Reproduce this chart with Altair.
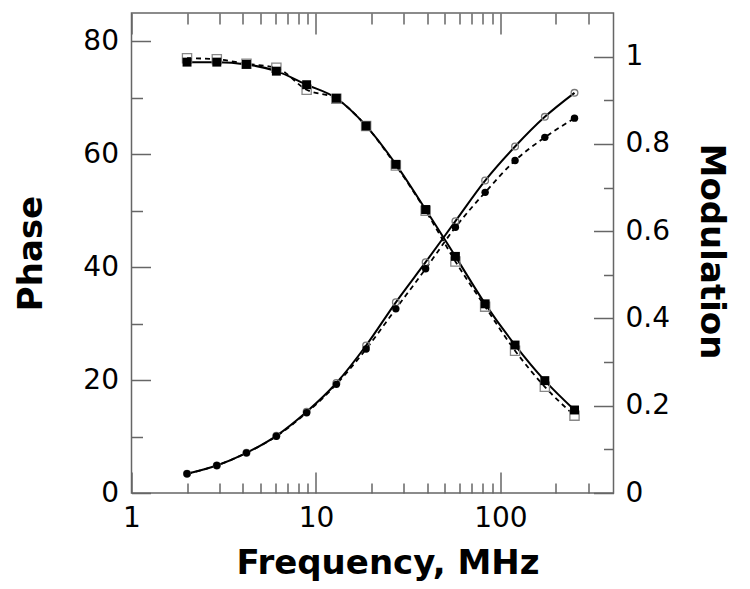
import altair as alt
import pandas as pd

# ---- data ----
freq = [2, 2.9, 4.2, 6.1, 8.9, 12.9, 18.7, 27.1, 39.3, 57, 82.6, 120, 174, 252]
phase_filled = [76.3, 76.3, 75.9, 74.7, 72.3, 69.9, 65.0, 58.2, 50.2, 41.9, 33.5, 26.2, 19.9, 14.7]
phase_open = [77.0, 76.8, 76.0, 75.3, 71.4, 69.8, 65.0, 58.0, 50.0, 41.0, 33.0, 25.2, 18.8, 13.7]
mod_open = [0.044, 0.063, 0.092, 0.131, 0.186, 0.252, 0.338, 0.437, 0.529, 0.623, 0.716, 0.794, 0.862, 0.917]
mod_filled = [0.044, 0.063, 0.092, 0.130, 0.184, 0.249, 0.330, 0.422, 0.514, 0.609, 0.689, 0.762, 0.815, 0.859]

x_major = [1, 10, 100]
x_minor = [2, 3, 4, 5, 6, 7, 8, 9, 20, 30, 40, 50, 60, 70, 80, 90, 200, 300]
phase_major = [0, 20, 40, 60, 80]
phase_minor = [10, 30, 50, 70]
mod_major = [0, 0.2, 0.4, 0.6, 0.8, 1.0]
mod_minor = [0.1, 0.3, 0.5, 0.7, 0.9]

df = pd.DataFrame({
    "freq": freq,
    "phase_filled": phase_filled,
    "phase_open": phase_open,
    "mod_open": mod_open,
    "mod_filled": mod_filled,
})

FONT = "DejaVu Sans"
GRAY = "#666666"
x_scale = alt.Scale(type="log", domain=[1, 410], nice=False)
phase_scale = alt.Scale(domain=[0, 85], nice=False, zero=False)
mod_scale = alt.Scale(domain=[0, 1.1], nice=False, zero=False)

base = alt.Chart(df)


def X(axis=None):
    return alt.X("freq:Q", scale=x_scale, axis=axis)


def YP(col, axis=None):
    return alt.Y(f"{col}:Q", scale=phase_scale, axis=axis)


def YM(col, axis=None):
    return alt.Y(f"{col}:Q", scale=mod_scale, axis=axis)


def tick_axis(orient, values, size):
    return alt.Axis(orient=orient, values=values, labels=False, domain=False, grid=False,
                    ticks=True, tickSize=size, offset=-size, tickColor=GRAY, tickWidth=1.5,
                    title=None)


# ---- data layers ----
line_pf = base.mark_line(color="black", strokeWidth=2, interpolate="monotone").encode(
    x=X(), y=YP("phase_filled"))
line_po = base.mark_line(color="black", strokeWidth=1.8, strokeDash=[5, 4], interpolate="monotone").encode(
    x=X(), y=YP("phase_open"))
line_mo = base.mark_line(color="black", strokeWidth=2, interpolate="monotone").encode(
    x=X(), y=YM("mod_open"))
line_mf = base.mark_line(color="black", strokeWidth=1.8, strokeDash=[5, 4], interpolate="monotone").encode(
    x=X(), y=YM("mod_filled"))

pts_po = base.mark_point(shape="square", filled=False, stroke="#888888", strokeWidth=1.3,
                         size=85, opacity=1).encode(x=X(), y=YP("phase_open"))
pts_pf = base.mark_point(shape="square", filled=True, color="black", size=80, opacity=1).encode(
    x=X(), y=YP("phase_filled"))
pts_mo = base.mark_point(shape="circle", filled=False, stroke="#777777", strokeWidth=1.3,
                         size=45, opacity=1).encode(x=X(), y=YM("mod_open"))
pts_mf = base.mark_point(shape="circle", filled=True, color="black", size=55, opacity=1).encode(
    x=X(), y=YM("mod_filled"))

# ---- axis layers (invisible marks carrying the axes) ----
ax_left_labels = alt.Axis(orient="left", values=phase_major, ticks=False, domain=False, grid=False,
                          labelFont=FONT, labelFontSize=28, labelColor="black", labelPadding=13,
                          labelOverlap=False, labelFlush=False,
                          title="Phase", titleFont=FONT, titleFontSize=34, titleFontWeight="bold",
                          titleColor="black", titleAngle=270, titleX=-90, titleY=240,
                          titleAlign="center", titleBaseline="alphabetic")
ax_right_labels = alt.Axis(orient="right", values=mod_major, ticks=False, domain=False, grid=False,
                           format="~g", labelFont=FONT, labelFontSize=28, labelColor="black",
                           labelPadding=11.5, labelOverlap=False, labelFlush=False,
                           title="Modulation", titleFont=FONT, titleFontSize=34, titleFontWeight="bold",
                           titleColor="black", titleAngle=90, titleX=86.5, titleY=238,
                           titleAlign="center", titleBaseline="alphabetic")
ax_bottom_labels = alt.Axis(orient="bottom", values=x_major, ticks=False, domain=False, grid=False,
                            format="~g", labelFont=FONT, labelFontSize=28, labelColor="black",
                            labelPadding=11, labelOverlap=False, labelFlush=False,
                            title="Frequency, MHz", titleFont=FONT, titleFontSize=34,
                            titleFontWeight="bold", titleColor="black", titleX=256, titleY=80,
                            titleAlign="center", titleBaseline="alphabetic")

ghost = dict(opacity=0, size=1)
axl1 = base.mark_point(**ghost).encode(x=X(ax_bottom_labels), y=YP("phase_filled", ax_left_labels))
axl2 = base.mark_point(**ghost).encode(x=X(tick_axis("bottom", x_major, 21)),
                                       y=YP("phase_filled", tick_axis("left", phase_major, 19)))
axl3 = base.mark_point(**ghost).encode(x=X(tick_axis("bottom", x_minor, 10)),
                                       y=YP("phase_filled", tick_axis("left", phase_minor, 11)))
axl4 = base.mark_point(**ghost).encode(x=X(tick_axis("top", x_major, 21)),
                                       y=YM("mod_open", ax_right_labels))
axl5 = base.mark_point(**ghost).encode(x=X(tick_axis("top", x_minor, 11)),
                                       y=YM("mod_open", tick_axis("right", mod_major, 20)))
axl6 = base.mark_point(**ghost).encode(x=X(), y=YM("mod_open", tick_axis("right", mod_minor, 10)))

chart = alt.layer(
    line_pf, line_po, line_mo, line_mf,
    pts_po, pts_mo, pts_pf, pts_mf,
    axl1, axl2, axl3, axl4, axl5, axl6,
).resolve_scale(y="independent").resolve_axis(x="independent", y="independent").properties(
    width=482, height=480,
    autosize=alt.AutoSizeParams(type="none"),
    padding={"left": 123.5, "top": 5, "right": 128, "bottom": 90},
).configure_view(stroke=GRAY, strokeWidth=1.5)

chart.save("out.html", embed_options={"renderer": "svg", "actions": False})
